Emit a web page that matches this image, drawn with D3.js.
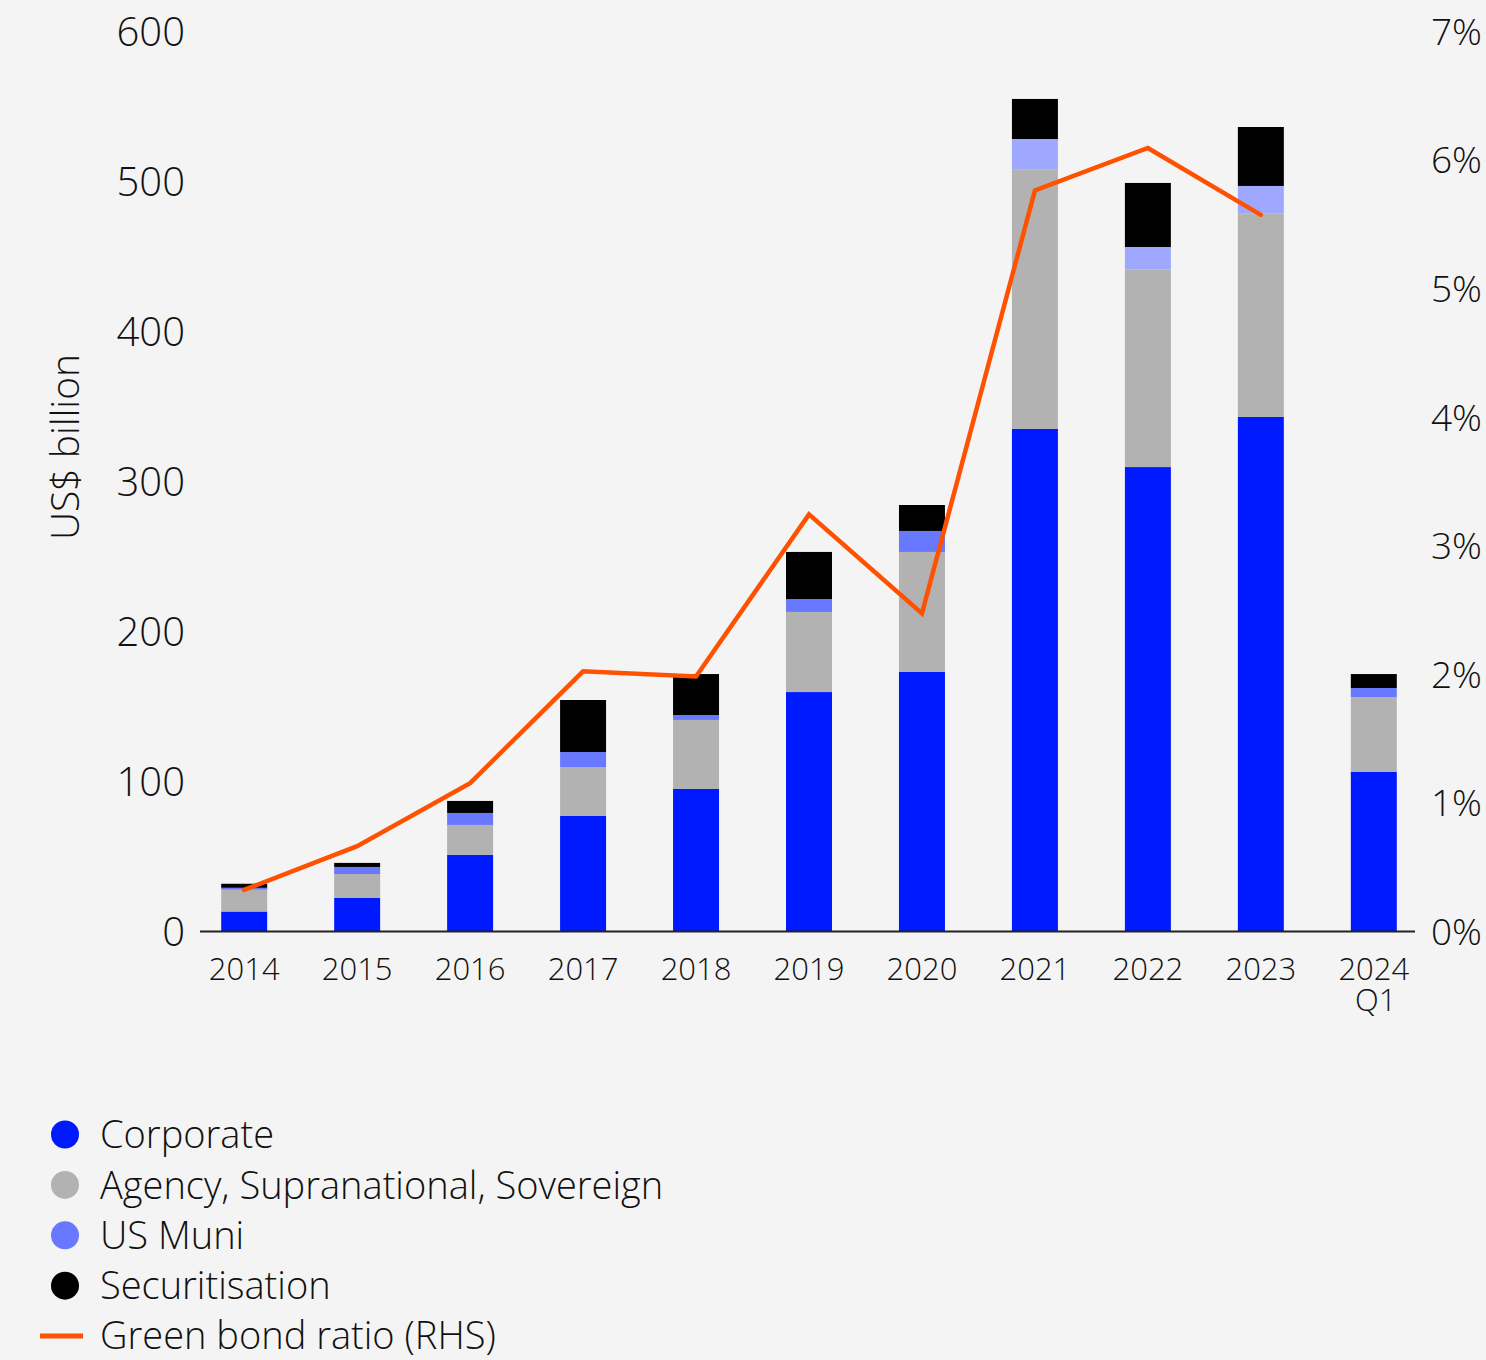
<!DOCTYPE html>
<html>
<head>
<meta charset="utf-8">
<script src="https://cdn.jsdelivr.net/npm/d3@7"></script>
<style>
  html, body { margin: 0; padding: 0; background: #f4f4f4; }
  svg { display: block; }
  text { font-family: "Open Sans", Lato, sans-serif; font-weight: 300; fill: #111; }
</style>
</head>
<body>
<svg id="chart" width="1486" height="1360"></svg>
<script>
// ---- Data ----
const categories = ["2014", "2015", "2016", "2017", "2018", "2019", "2020", "2021", "2022", "2023", "2024 Q1"];
const corporate   = [13, 22, 50.7, 76.7, 94.7, 159.3, 172.7, 334.7, 309.3, 342.7, 106];
const agency      = [14.5, 16, 20, 32.6, 46, 53.4, 80, 172.8, 131.6, 135.5, 50];
const usMuni      = [1.3, 4.7, 8, 10, 3.3, 8.6, 14, 20.5, 15.1, 18.5, 6];
const securitisation = [2.7, 2.7, 8, 34.7, 27.3, 31.4, 17.3, 26.7, 42.7, 39.3, 9.3];
const greenRatio  = [0.32, 0.66, 1.15, 2.02, 1.98, 3.24, 2.47, 5.76, 6.09, 5.57, null];
const leftTicks   = [0, 100, 200, 300, 400, 500, 600];
const rightTicks  = [0, 1, 2, 3, 4, 5, 6, 7];
const seriesNames = ["Corporate", "Agency, Supranational, Sovereign", "US Muni", "Securitisation"];
const lineName    = "Green bond ratio (RHS)";
const lighterMuniYears = ["2021", "2022", "2023"];

// ---- Styles ----
const colors = {
  "Corporate": "#001aff",
  "Agency, Supranational, Sovereign": "#b2b2b2",
  "US Muni": "#6878ff",
  "Securitisation": "#000000"
};
const muniLight = "#9ea8ff";
const lineColor = "#ff5200";
const FONT = '"Open Sans", Lato, sans-serif';

const svg = d3.select("#chart");
const yBase = 931, yTop = 31;

const x = d3.scaleBand().domain(categories).range([202, 1416]).paddingInner(0.593).paddingOuter(0.17);
const y = d3.scaleLinear().domain([0, 600]).range([yBase, yTop]);
const y2 = d3.scaleLinear().domain([0, 7]).range([yBase, yTop]);

const table = categories.map((c, i) => ({
  cat: c,
  "Corporate": corporate[i],
  "Agency, Supranational, Sovereign": agency[i],
  "US Muni": usMuni[i],
  "Securitisation": securitisation[i]
}));
const stacked = d3.stack().keys(seriesNames)(table);

const g = svg.append("g");
stacked.forEach(layer => {
  g.append("g").selectAll("rect").data(layer).join("rect")
    .attr("x", d => x(d.data.cat))
    .attr("width", x.bandwidth())
    .attr("y", d => y(d[1]))
    .attr("height", d => y(d[0]) - y(d[1]))
    .attr("fill", d => (layer.key === "US Muni" && lighterMuniYears.includes(d.data.cat)) ? muniLight : colors[layer.key]);
});

// x axis line
svg.append("line").attr("x1", 200).attr("x2", 1415).attr("y1", yBase + 0.5).attr("y2", yBase + 0.5)
  .attr("stroke", "#222").attr("stroke-width", 2);

// left axis
const leftAxis = d3.axisLeft(y).tickValues(leftTicks).tickSize(0).tickPadding(0);
const la = svg.append("g").attr("transform", "translate(185,0)").call(leftAxis);
la.select(".domain").remove();
la.selectAll("text").attr("font-size", 40).attr("font-family", FONT).attr("font-weight", 300).attr("fill", "#111").attr("dy", "0.36em");

// right axis
const rightAxis = d3.axisRight(y2).tickValues(rightTicks).tickFormat(d => d + "%").tickSize(0).tickPadding(0);
const ra = svg.append("g").attr("transform", "translate(1431,0)").call(rightAxis);
ra.select(".domain").remove();
ra.selectAll("text").attr("font-size", 37).attr("font-family", FONT).attr("font-weight", 300).attr("fill", "#111").attr("dy", "0.36em");

// bottom axis labels
const bottomAxis = d3.axisBottom(x).tickSize(0).tickPadding(0);
const ba = svg.append("g").attr("transform", `translate(0,${yBase})`).call(bottomAxis);
ba.select(".domain").remove();
ba.selectAll("text").each(function(d) {
  const t = d3.select(this);
  const parts = d.split(" ");
  t.text(null).attr("font-size", 31).attr("font-family", FONT).attr("font-weight", 300).attr("fill", "#111").attr("y", 0).attr("dy", null);
  parts.forEach((p, i) => {
    t.append("tspan").attr("x", i === 0 ? 0 : 2).attr("y", 49 + i * 31).text(p);
  });
});

// y title
svg.append("text")
  .attr("transform", `translate(79,447) rotate(-90)`)
  .attr("text-anchor", "middle")
  .attr("font-size", 39)
  .text("US$ billion");

// green ratio line
const line = d3.line()
  .defined(d => d.v !== null)
  .x(d => x(d.cat) + x.bandwidth() / 2)
  .y(d => y2(d.v));
svg.append("path")
  .datum(categories.map((c, i) => ({ cat: c, v: greenRatio[i] })))
  .attr("d", line)
  .attr("fill", "none")
  .attr("stroke", lineColor)
  .attr("stroke-width", 4.5)
  .attr("stroke-linejoin", "miter")
  .attr("stroke-linecap", "round");

// legend
const legend = svg.append("g");
const ly0 = 1134.5, lStep = 50.4;
seriesNames.forEach((name, i) => {
  const yy = ly0 + i * lStep;
  legend.append("circle").attr("cx", 65).attr("cy", yy).attr("r", 14).attr("fill", colors[name]);
  legend.append("text").attr("x", 100).attr("y", yy).attr("dy", "0.36em").attr("font-size", 38).text(name);
});
{
  const yy = ly0 + 4 * lStep;
  legend.append("line").attr("x1", 40).attr("x2", 83).attr("y1", yy).attr("y2", yy)
    .attr("stroke", lineColor).attr("stroke-width", 5);
  legend.append("text").attr("x", 100).attr("y", yy).attr("dy", "0.33em").attr("font-size", 38).text(lineName);
}
</script>
</body>
</html>
